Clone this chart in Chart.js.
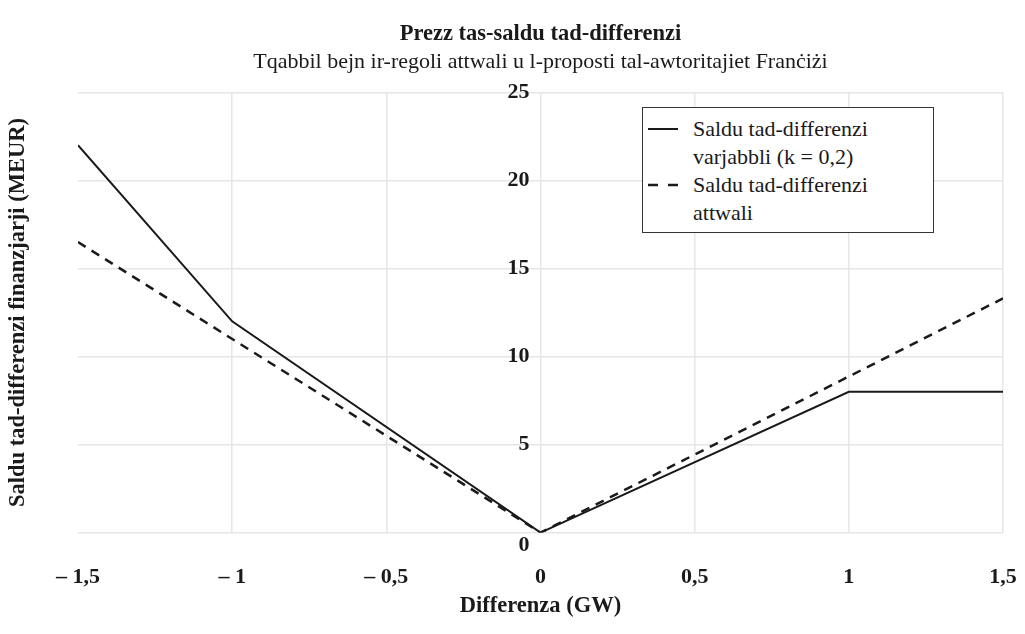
<!DOCTYPE html>
<html>
<head>
<meta charset="utf-8">
<title>Prezz tas-saldu tad-differenzi</title>
<script src="https://cdn.jsdelivr.net/npm/chart.js@4.4.1/dist/chart.umd.min.js"></script>
<style>
    body { margin: 0; background: #fff; }
    #wrap { position: relative; width: 1025px; height: 634px; }
    #legend {
        position: absolute; left: 642px; top: 107px; width: 290px;
        border: 1.5px solid #333; background: #fff;
        padding: 7px 0 5px 0;
        font-family: "Liberation Serif", serif; font-size: 22px; color: #1a1a1a;
    }
    #legend .item { display: flex; align-items: flex-start; line-height: 28px; }
    #legend svg { margin-left: 5px; margin-right: 15px; flex: none; }
    #legend .txt { white-space: pre-line; }
</style>
</head>
<body>
<div id="wrap">
    <canvas id="saldoChart" width="1025" height="634"></canvas>
    <div id="legend"></div>
</div>
<script>
// Data (x in GW, y in MEUR)
const variableX = [-1.5, -1, 0, 1, 1.5];
const variableY = [22, 12, 0, 8, 8];
const currentX = [-1.5, 0, 1.5];
const currentY = [16.5, 0, 13.3];
const seriesLabels = ['Saldu tad-differenzi\nvarjabbli (k = 0,2)', 'Saldu tad-differenzi\nattwali'];
const xTicks = [-1.5, -1, -0.5, 0, 0.5, 1, 1.5];
const yTicks = [0, 5, 10, 15, 20, 25];

const FONT = '"Liberation Serif", serif';
const INK = '#1a1a1a';
const GRID = '#e6e6e6';

function toPoints(xs, ys) {
    return xs.map((x, i) => ({ x: x, y: ys[i] }));
}

// comma decimals, en dash for negatives
function formatX(v) {
    const s = Math.abs(v).toString().replace('.', ',');
    return v < 0 ? '\u2013 ' + s : s;
}

// y labels sit a little left of the centre axis; the 0 drops below the corner
function formatY(v) {
    const s = v + '\u2002';
    return v === 0 ? ['', s] : s;
}

// HTML legend built from the datasets
const htmlLegend = {
    id: 'htmlLegend',
    afterUpdate(chart) {
        const box = document.getElementById('legend');
        box.innerHTML = '';
        chart.data.datasets.forEach(ds => {
            const item = document.createElement('div');
            item.className = 'item';
            const dash = ds.borderDash && ds.borderDash.length ? '10,10' : '';
            item.innerHTML =
                '<svg width="30" height="28"><line x1="0" y1="14" x2="30" y2="14" stroke="' + ds.borderColor +
                '" stroke-width="' + ds.borderWidth + '"' + (dash ? ' stroke-dasharray="' + dash + '"' : '') + '/></svg>' +
                '<span class="txt"></span>';
            item.querySelector('.txt').textContent = ds.label;
            box.appendChild(item);
        });
    }
};

const ctx = document.getElementById('saldoChart').getContext('2d');
new Chart(ctx, {
    type: 'line',
    data: {
        datasets: [{
            label: seriesLabels[0],
            data: toPoints(variableX, variableY),
            borderColor: INK,
            borderWidth: 2,
            pointRadius: 0,
            tension: 0
        }, {
            label: seriesLabels[1],
            data: toPoints(currentX, currentY),
            borderColor: INK,
            borderWidth: 2.5,
            borderDash: [9, 7],
            pointRadius: 0,
            tension: 0
        }]
    },
    options: {
        responsive: false,
        animation: false,
        layout: { padding: { left: 0, right: 0, top: 0, bottom: 14 } },
        plugins: {
            legend: { display: false },
            tooltip: { enabled: false },
            title: {
                display: true,
                fullSize: false,
                text: 'Prezz tas-saldu tad-differenzi',
                color: INK,
                font: { family: FONT, size: 22.5, weight: 'bold' },
                padding: { top: 21, bottom: 1 }
            },
            subtitle: {
                display: true,
                fullSize: false,
                text: 'Tqabbil bejn ir-regoli attwali u l-proposti tal-awtoritajiet Franċiżi',
                color: INK,
                font: { family: FONT, size: 22 },
                padding: { top: 0, bottom: 17 }
            }
        },
        scales: {
            x: {
                type: 'linear',
                min: -1.5,
                max: 1.5,
                afterBuildTicks: scale => { scale.ticks = xTicks.map(v => ({ value: v })); },
                // tick padding inflates the side padding, keep the plot reaching the right edge
                afterFit: scale => { scale.paddingRight = 22; },
                grid: {
                    color: c => (c.tick && c.tick.value === -1.5) ? 'rgba(0,0,0,0)' : GRID,
                    lineWidth: 1.5,
                    drawTicks: false
                },
                border: { display: false },
                ticks: {
                    padding: 32,
                    color: INK,
                    font: { family: FONT, size: 22, weight: 'bold' },
                    callback: v => formatX(v)
                },
                title: {
                    display: true,
                    text: 'Differenza (GW)',
                    color: INK,
                    font: { family: FONT, size: 22.5, weight: 'bold' },
                    padding: { top: -30, bottom: 0 }
                }
            },
            y: {
                type: 'linear',
                position: { x: 0 },
                min: 0,
                max: 25,
                afterBuildTicks: scale => { scale.ticks = yTicks.map(v => ({ value: v })); },
                grid: { color: GRID, lineWidth: 1.5, drawTicks: false },
                border: { display: false },
                ticks: {
                    padding: 12,
                    color: INK,
                    font: { family: FONT, size: 22, weight: 'bold' },
                    callback: v => formatY(v)
                }
            },
            yLabel: {
                type: 'linear',
                position: 'left',
                grid: { display: false },
                border: { display: false },
                ticks: { display: false },
                title: {
                    display: true,
                    text: 'Saldu tad-differenzi finanzjarji (MEUR)',
                    color: INK,
                    font: { family: FONT, size: 22.5, weight: 'bold' },
                    padding: { top: 5, bottom: 0 }
                },
                afterFit: scale => { scale.width = 78; }
            }
        }
    },
    plugins: [htmlLegend]
});
</script>
</body>
</html>
